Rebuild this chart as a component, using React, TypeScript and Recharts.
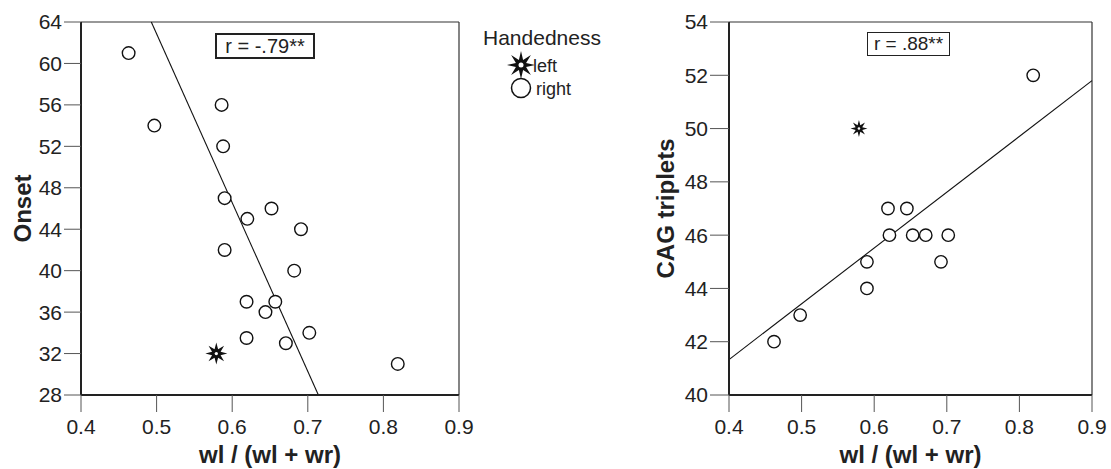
import {
  ScatterChart,
  Scatter,
  XAxis,
  YAxis,
  ReferenceLine,
} from "recharts";

// wl / (wl + wr) against onset, right- and left-handed subjects
const onsetRatioRight = [0.463, 0.497, 0.586, 0.588, 0.59, 0.62, 0.652, 0.691, 0.59, 0.682, 0.619, 0.657, 0.644, 0.619, 0.702, 0.671, 0.819];
const onsetRight = [61, 54, 56, 52, 47, 45, 46, 44, 42, 40, 37, 37, 36, 33.5, 34, 33, 31];
const onsetRatioLeft = [0.579];
const onsetLeft = [32];
const onsetFitX = [0.493, 0.714];
const onsetFitY = [64, 28];

// wl / (wl + wr) against CAG triplets
const cagRatioRight = [0.819, 0.619, 0.645, 0.621, 0.653, 0.671, 0.702, 0.59, 0.692, 0.59, 0.498, 0.462];
const cagRight = [52, 47, 47, 46, 46, 46, 46, 45, 45, 44, 43, 42];
const cagRatioLeft = [0.579];
const cagLeft = [50];
const cagFitX = [0.4, 0.9];
const cagFitY = [41.33, 51.8];

const ratioTicks = [0.4, 0.5, 0.6, 0.7, 0.8, 0.9];
const onsetTicks = [28, 32, 36, 40, 44, 48, 52, 56, 60, 64];
const cagTicks = [40, 42, 44, 46, 48, 50, 52, 54];

const FONT = "'Liberation Sans', Arial, Helvetica, sans-serif";
const INK = "#222";

const zip = (xs: number[], ys: number[]) => xs.map((x, i) => ({ x, y: ys[i] }));

function starPoints(cx: number, cy: number, outer: number, inner: number) {
  const pts: string[] = [];
  for (let i = 0; i < 16; i++) {
    const r = i % 2 === 0 ? outer : inner;
    const a = (Math.PI / 8) * i - Math.PI / 2;
    pts.push(`${cx + r * Math.cos(a)},${cy + r * Math.sin(a)}`);
  }
  return pts.join(" ");
}

const circleShape = (r: number) => (p: any) => (
  <circle cx={p.cx} cy={p.cy} r={r} fill="#fff" stroke="#111" strokeWidth={1.4} />
);

const starShape = (outer: number) => (p: any) => (
  <g>
    <polygon points={starPoints(p.cx, p.cy, outer, outer * 0.42)} fill="#111" />
    <circle cx={p.cx} cy={p.cy} r={outer * 0.15} fill="#fff" />
  </g>
);

const tickStyle = { fill: INK, fontSize: 21, fontFamily: FONT };
const labelStyle = { fill: INK, fontSize: 24, fontFamily: FONT, fontWeight: 700 };

interface PanelProps {
  width: number;
  yWidth: number;
  right: number;
  yTicks: number[];
  yLabel: string;
  yLabelDx: number;
  tickSize: number;
  right_x: number[];
  right_y: number[];
  left_x: number[];
  left_y: number[];
  fitX: number[];
  fitY: number[];
  circleR: number;
  starR: number;
}

function Panel(p: PanelProps) {
  const yMin = p.yTicks[0];
  const yMax = p.yTicks[p.yTicks.length - 1];
  return (
    <ScatterChart
      width={p.width}
      height={469}
      margin={{ top: 22, right: p.right, bottom: 0, left: 0 }}
    >
      <XAxis
        type="number"
        dataKey="x"
        domain={[0.4, 0.9]}
        ticks={ratioTicks}
        tickFormatter={(v: number) => v.toFixed(1)}
        height={74}
        tickSize={17}
        tickMargin={7}
        tick={tickStyle}
        axisLine={{ stroke: INK, strokeWidth: 2 }}
        tickLine={{ stroke: "#555", strokeWidth: 1 }}
        label={{ value: "wl / (wl + wr)", position: "center", dy: 22, style: labelStyle }}
      />
      <YAxis
        type="number"
        dataKey="y"
        domain={[yMin, yMax]}
        ticks={p.yTicks}
        width={p.yWidth}
        tickSize={p.tickSize}
        tick={tickStyle}
        axisLine={{ stroke: INK, strokeWidth: 2 }}
        tickLine={{ stroke: "#555", strokeWidth: 1 }}
        label={{ value: p.yLabel, angle: -90, position: "center", dx: p.yLabelDx, style: labelStyle }}
      />
      <ReferenceLine y={yMax} stroke="#333" strokeWidth={1.2} />
      <ReferenceLine x={0.9} stroke="#333" strokeWidth={1.2} />
      <ReferenceLine
        segment={zip(p.fitX, p.fitY)}
        stroke="#111"
        strokeWidth={1.1}
      />
      <Scatter
        data={zip(p.right_x, p.right_y)}
        shape={circleShape(p.circleR)}
        isAnimationActive={false}
      />
      <Scatter
        data={zip(p.left_x, p.left_y)}
        shape={starShape(p.starR)}
        isAnimationActive={false}
      />
    </ScatterChart>
  );
}

export default function App() {
  return (
    <div
      style={{
        position: "absolute",
        left: 0,
        top: 0,
        width: 1111,
        height: 469,
        background: "#fff",
        fontFamily: FONT,
        color: INK,
      }}
    >
      <div style={{ position: "absolute", left: 0, top: 0 }}>
        <Panel
          width={640}
          yWidth={81}
          right={181}
          yTicks={onsetTicks}
          yLabel="Onset"
          yLabelDx={-18}
          tickSize={17}
          right_x={onsetRatioRight}
          right_y={onsetRight}
          left_x={onsetRatioLeft}
          left_y={onsetLeft}
          fitX={onsetFitX}
          fitY={onsetFitY}
          circleR={6.3}
          starR={11}
        />
      </div>
      <div style={{ position: "absolute", left: 600, top: 0 }}>
        <Panel
          width={511}
          yWidth={129}
          right={19}
          yTicks={cagTicks}
          yLabel="CAG triplets"
          yLabelDx={1}
          tickSize={19}
          right_x={cagRatioRight}
          right_y={cagRight}
          left_x={cagRatioLeft}
          left_y={cagLeft}
          fitX={cagFitX}
          fitY={cagFitY}
          circleR={6.2}
          starR={8.5}
        />
      </div>

      {/* correlation boxes */}
      <div
        style={{
          position: "absolute",
          left: 215,
          top: 33,
          width: 96,
          height: 22,
          border: "2px solid #222",
          fontSize: 20,
          lineHeight: "22px",
          textAlign: "center",
        }}
      >
        r = -.79**
      </div>
      <div
        style={{
          position: "absolute",
          left: 867,
          top: 32,
          width: 81,
          height: 22,
          border: "1px solid #222",
          fontSize: 19,
          lineHeight: "22px",
          textAlign: "center",
        }}
      >
        r = .88**
      </div>

      {/* legend */}
      <svg
        style={{ position: "absolute", left: 470, top: 20 }}
        width={150}
        height={90}
      >
        <text x={13} y={25} fontSize={21} fill={INK} fontFamily={FONT}>
          Handedness
        </text>
        <polygon points={starPoints(51, 45, 14, 5.5)} fill="#111" />
        <circle cx={51} cy={45} r={2.5} fill="#fff" />
        <text x={63} y={52} fontSize={18} fill={INK} fontFamily={FONT}>
          left
        </text>
        <circle cx={51} cy={68} r={9.5} fill="#fff" stroke="#111" strokeWidth={1.5} />
        <text x={66} y={75} fontSize={18} fill={INK} fontFamily={FONT}>
          right
        </text>
      </svg>
    </div>
  );
}
